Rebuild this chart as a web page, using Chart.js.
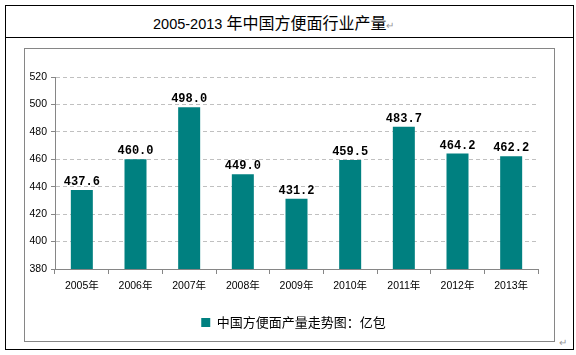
<!DOCTYPE html>
<html><head><meta charset="utf-8">
<script src="https://cdn.jsdelivr.net/npm/chart.js@4/dist/chart.umd.min.js"></script>
<style>
html,body{margin:0;padding:0;background:#fff;width:576px;height:355px;overflow:hidden;}
#outer{position:absolute;left:5px;top:5px;width:567px;height:343px;border:1px solid #000;box-sizing:content-box;}
#titleRow{position:absolute;left:5px;top:37px;width:568px;height:0;border-top:1px solid #000;}
#title{position:absolute;left:153px;top:11px;white-space:nowrap;font:16px "Noto Sans CJK SC",sans-serif;color:#000;line-height:22px;}
#title .num{font:14.5px "Liberation Sans",sans-serif;}
#title .r{color:#999;font-size:10px;}
#inner{position:absolute;left:24px;top:48px;width:529px;height:292px;border:1px solid #868686;}
#c{position:absolute;left:0;top:0;}
.ret{position:absolute;color:#999;font:10px "Liberation Sans",sans-serif;}
</style></head>
<body>
<div id="outer"></div>
<div id="titleRow"></div>
<div id="title"><span class="num">2005-2013 </span>年中国方便面行业产量<span class="r">↵</span></div>
<div id="inner"></div>
<div class="ret" style="left:559px;top:337px;">↵</div>
<canvas id="c" width="576" height="355"></canvas>
<script>
const categories = ["2005年","2006年","2007年","2008年","2009年","2010年","2011年","2012年","2013年"];
const production = [437.6, 460.0, 498.0, 449.0, 431.2, 459.5, 483.7, 464.2, 462.2];
const seriesName = "中国方便面产量走势图：亿包";
const yMin = 380, yMax = 520, yStep = 20;

const valueLabels = {
  id: 'valueLabels',
  afterLayout(chart) {
    if (chart.legend) { chart.legend.left += 12; chart.legend.right += 12; }
  },
  afterDatasetsDraw(chart) {
    const ctx = chart.ctx;
    const meta = chart.getDatasetMeta(0);
    ctx.save();
    ctx.font = 'bold 12px "Liberation Mono","DejaVu Sans Mono",monospace';
    ctx.fillStyle = '#000';
    ctx.textAlign = 'center';
    ctx.textBaseline = 'bottom';
    meta.data.forEach((bar, i) => {
      ctx.fillText(production[i].toFixed(1), bar.x, bar.y - 2);
    });
    ctx.restore();
  }
};

new Chart(document.getElementById('c'), {
  type: 'bar',
  data: {
    labels: categories,
    datasets: [{
      label: seriesName,
      data: production,
      backgroundColor: '#008080',
      borderWidth: 0,
      categoryPercentage: 1,
      barPercentage: 0.41
    }]
  },
  options: {
    responsive: false,
    animation: false,
    devicePixelRatio: 1,
    layout: { padding: { left: 25, right: 38, top: 77, bottom: 16 } },
    plugins: {
      legend: {
        position: 'bottom',
        labels: {
          boxWidth: 9, boxHeight: 9, padding: 10,
          color: '#000',
          font: { size: 13, family: '"Noto Sans CJK SC","Liberation Sans",sans-serif' }
        }
      },
      tooltip: { enabled: false }
    },
    scales: {
      x: {
        offset: true,
        grid: { offset: true, drawOnChartArea: false, tickLength: 5, color: '#868686' },
        border: { color: '#868686' },
        ticks: { color: '#000', padding: 6, font: { size: 10.5, family: '"Liberation Sans","Noto Sans CJK SC",sans-serif' }, maxRotation: 0 },
        afterFit(s) { s.height = 37; }
      },
      y: {
        min: yMin, max: yMax,
        ticks: { stepSize: yStep, color: '#000', padding: 4, font: { size: 10.5, family: '"Liberation Sans",sans-serif' } },
        grid: {
          color: (c) => c.tick && c.tick.value === yMin ? 'rgba(0,0,0,0)' : '#c0c0c0',
          tickLength: 4, tickColor: '#868686'
        },
        border: { color: '#868686', dash: [4, 3] },
        afterFit(s) { s.width = 30; }
      }
    }
  },
  plugins: [valueLabels]
});
</script>
</body></html>
